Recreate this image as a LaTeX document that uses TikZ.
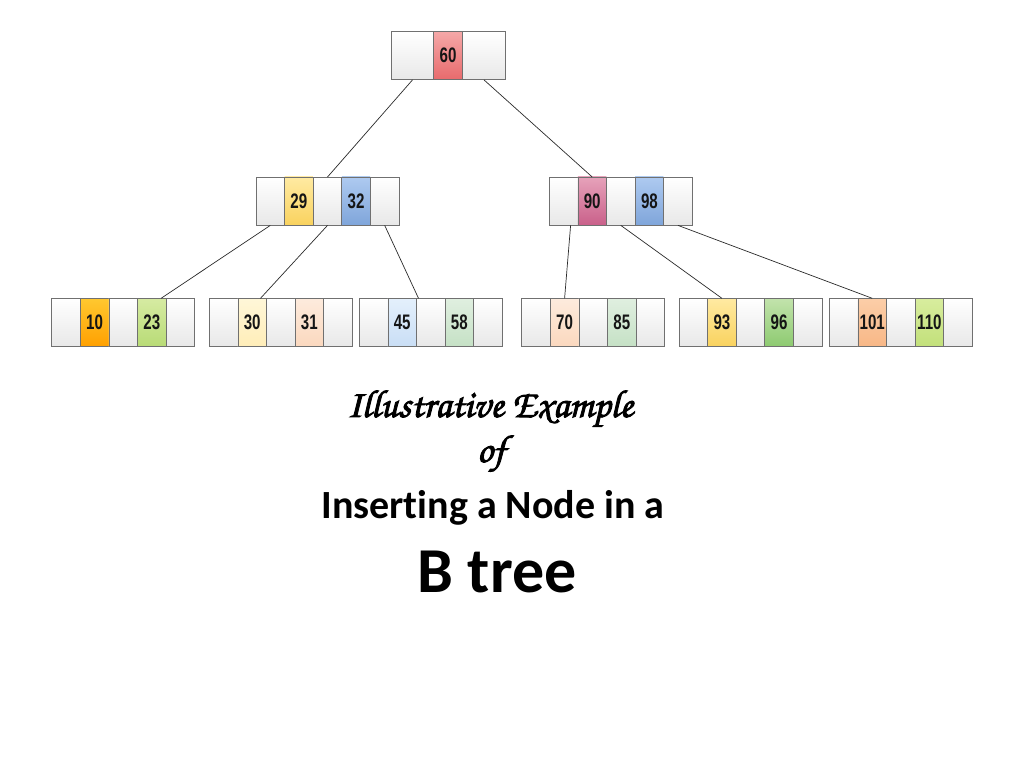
\documentclass[tikz,border=0pt]{standalone}
\usepackage[T1]{fontenc}
\usepackage{fontspec}
\usetikzlibrary{positioning,shadings}

\newfontfamily\keyfont[FakeStretch=0.72]{Liberation Sans}
\newfontfamily\slidefont[Ligatures=NoCommon]{Carlito}
\newcommand\chanceryfont{\usefont{T1}{pzc}{mb}{it}}
% stroke the glyph outlines too, to thicken the script
\newcommand\strokedtext[1]{\special{pdf:literal direct 2 Tr 0.9 w}#1\special{pdf:literal direct 0 Tr}}

\begin{document}
\begin{tikzpicture}[x=1pt, y=-1pt,
    cell/.style={draw=cellBorder, line width=0.8pt, minimum height=48.4pt,
        inner sep=0pt, outer sep=0pt, text=keyText,
        font=\keyfont\bfseries\fontsize{21}{21}\selectfont},
    ptrcell/.style={cell, minimum width=28.6pt, top color=white, bottom color=ptrShade},
    keycell/.style={cell, minimum width=28.6pt, top color=#1Top, bottom color=#1Bot},
    edge/.style={draw=edgeColour, line width=0.7pt},
    scripttext/.style={font=\chanceryfont\fontsize{39}{39}\selectfont},
    subtitle/.style={font=\slidefont\bfseries\fontsize{40}{40}\selectfont},
    bigtitle/.style={font=\slidefont\bfseries\fontsize{64}{64}\selectfont}]
    % Define colours
    \definecolor{cellBorder}{HTML}{707070}
    \definecolor{edgeColour}{HTML}{2B2B2B}
    \definecolor{keyText}{HTML}{151515}
    \definecolor{ptrShade}{HTML}{E8E8E8}
    \definecolor{redTop}{HTML}{F5A8A8}
    \definecolor{redBot}{HTML}{E86A6C}
    \definecolor{yellowTop}{HTML}{FFEAA2}
    \definecolor{yellowBot}{HTML}{F9D25E}
    \definecolor{blueTop}{HTML}{AECAF0}
    \definecolor{blueBot}{HTML}{7FA5DA}
    \definecolor{magentaTop}{HTML}{E6A2BA}
    \definecolor{magentaBot}{HTML}{C9608A}
    \definecolor{orangeTop}{HTML}{FFC830}
    \definecolor{orangeBot}{HTML}{FFA000}
    \definecolor{greenTop}{HTML}{D6EBA2}
    \definecolor{greenBot}{HTML}{B8DB76}
    \definecolor{paleYellowTop}{HTML}{FFF7D8}
    \definecolor{paleYellowBot}{HTML}{FFEDB8}
    \definecolor{peachTop}{HTML}{FDEBDD}
    \definecolor{peachBot}{HTML}{FBD8BE}
    \definecolor{paleBlueTop}{HTML}{E4F0FC}
    \definecolor{paleBlueBot}{HTML}{C9DEF5}
    \definecolor{paleGreenTop}{HTML}{E0EFE0}
    \definecolor{paleGreenBot}{HTML}{C5E1C5}
    \definecolor{midGreenTop}{HTML}{C2E3AC}
    \definecolor{midGreenBot}{HTML}{8DCA70}
    \definecolor{salmonTop}{HTML}{FCCEA8}
    \definecolor{salmonBot}{HTML}{F8B786}
    \definecolor{limeTop}{HTML}{D8ED9E}
    \definecolor{limeBot}{HTML}{C2E07A}

    % Page
    \useasboundingbox[fill=white] (0,0) rectangle (1024,767);

    % Root node
    \node[ptrcell, minimum width=42pt, anchor=north west] (root-p0) at (391.5,31.5) {};
    \node[keycell=red, minimum width=29pt, right=0pt of root-p0] (root-k0) {60};
    \node[ptrcell, minimum width=43pt, right=0pt of root-k0] (root-p1) {};

    % Second level
    \foreach \name/\x/\keyA/\colA/\keyB/\colB in {a/256/29/yellow/32/blue, b/549.3/90/magenta/98/blue}{
        \node[ptrcell, anchor=north west] (\name-p0) at (\x,177) {};
        \node[keycell=\colA, right=0pt of \name-p0] (\name-k0) {\keyA};
        \node[ptrcell, right=0pt of \name-k0] (\name-p1) {};
        \node[keycell=\colB, right=0pt of \name-p1] (\name-k1) {\keyB};
        \node[ptrcell, right=0pt of \name-k1] (\name-p2) {};
    }

    % Leaves
    \foreach \name/\x/\keyA/\colA/\keyB/\colB in {l1/51.7/10/orange/23/green,
            l2/209.3/30/paleYellow/31/peach, l3/359.3/45/paleBlue/58/paleGreen,
            l4/521.7/70/peach/85/paleGreen, l5/679/93/yellow/96/midGreen,
            l6/829.3/101/salmon/110/lime}{
        \node[ptrcell, anchor=north west] (\name-p0) at (\x,298.3) {};
        \node[keycell=\colA, right=0pt of \name-p0] (\name-k0) {\keyA};
        \node[ptrcell, right=0pt of \name-k0] (\name-p1) {};
        \node[keycell=\colB, right=0pt of \name-p1] (\name-k1) {\keyB};
        \node[ptrcell, right=0pt of \name-k1] (\name-p2) {};
    }

    % Links from the root
    \draw[edge] (root-p0.south) -- (a-p1.north);
    \draw[edge] (root-p1.south) -- (b-k0.north);

    % Links to the leaves
    \draw[edge] (a-p0.south) -- ([xshift=-5pt]l1-k1.north east);
    \draw[edge] (a-p1.south) -- ([xshift=-6pt]l2-k0.north east);
    \draw[edge] (a-p2.south) -- ([xshift=2pt]l3-k0.north east);
    \draw[edge] ([xshift=7pt]b-p0.south) -- (l4-k0.north);
    \draw[edge] (b-p1.south) -- (l5-k0.north);
    \draw[edge] (b-p2.south) -- (l6-k0.north);

    % Caption
    \node[scripttext, anchor=base] (title) at (490,417) {\strokedtext{Illustrative Example}};
    \node[scripttext, anchor=base] (of) at (491,462) {\strokedtext{of}};
    \node[subtitle, anchor=base] (insert) at (493,518) {Inserting a Node in a};
    \node[bigtitle, anchor=base] (btree) at (497,592) {B tree};

\end{tikzpicture}
\end{document}
